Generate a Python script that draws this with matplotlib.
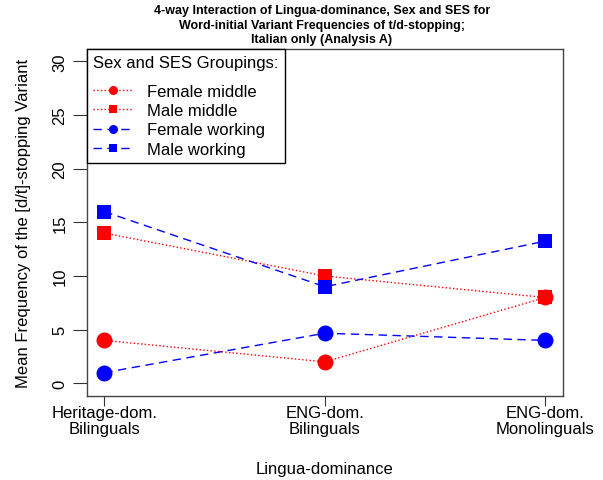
import matplotlib
matplotlib.use("Agg")
import matplotlib.pyplot as plt
from matplotlib.lines import Line2D

plt.rcParams['font.family'] = ['Liberation Sans', 'DejaVu Sans']

# grupos de dominancia linguistica
grupos = ["Heritage-dom.\nBilinguals", "ENG-dom.\nBilinguals", "ENG-dom.\nMonolinguals"]
x = [1, 2, 3]

# medias por sexo y nivel socioeconomico
female_middle = [4, 2, 8]
male_middle = [14, 10, 8]
female_working = [1, 4.67, 4]
male_working = [16, 9, 13.25]

series = [
    ("Female middle", female_middle, "red", ":", "o"),
    ("Male middle", male_middle, "red", ":", "s"),
    ("Female working", female_working, "blue", (0, (6, 4)), "o"),
    ("Male working", male_working, "blue", (0, (6, 4)), "s"),
]

fig = plt.figure(figsize=(6.03, 4.81), dpi=100)
ax = fig.add_axes([86.7 / 603, 83.8 / 481, 476.3 / 603, 347.7 / 481])

handles = []
for nombre, y, color, estilo, marca in series:
    ms = 11.5 if marca == "o" else 10.5
    ax.plot(x, y, color=color, linestyle=estilo, linewidth=1,
            marker=marca, markersize=ms, markeredgewidth=0)
    handles.append(Line2D([0], [0], color=color, linestyle=estilo, linewidth=1,
                          marker=marca, markersize=6.5 if marca == "o" else 6,
                          markeredgewidth=0, label=nombre))

ax.set_xlim(0.92, 3.08)
ax.set_ylim(-1.2, 31.2)
ax.set_xticks(x)
ax.set_xticklabels(grupos, fontsize=12, linespacing=1.1)
ax.set_yticks(range(0, 31, 5))
ax.set_yticklabels([str(v) for v in range(0, 31, 5)], fontsize=12,
                   rotation=90, va="center")
ax.tick_params(axis="both", direction="out", length=7, width=0.8, color="#333333")
ax.tick_params(axis="y", length=10, pad=4)
ax.tick_params(axis="x", pad=-1)
for s in ax.spines.values():
    s.set_color("#444444")
    s.set_linewidth(1)

ax.set_xlabel("Lingua-dominance", fontsize=12, labelpad=18)
ax.set_ylabel("Mean Frequency of the [d/t]-stopping Variant", fontsize=12, labelpad=15.5)

fig.text(322 / 603, 1 - 25.5 / 481,
         "4-way Interaction of Lingua-dominance, Sex and SES for\n"
         "Word-initial Variant Frequencies of t/d-stopping;\n"
         "Italian only (Analysis A)",
         ha="center", va="center", fontsize=9, fontweight="bold", linespacing=1.3)

leg = ax.legend(handles=handles, title="Sex and SES Groupings:", loc="upper left",
                bbox_to_anchor=(0, 1), borderaxespad=0, fontsize=12, title_fontsize=12,
                fancybox=False, edgecolor="black", framealpha=1, handlelength=2.4,
                handletextpad=0.8, labelspacing=0.25, borderpad=0.4, alignment="left")
leg.get_frame().set_linewidth(1)
# separacion extra entre el titulo y las entradas
leg._legend_box.sep = 10

fig.savefig("out.png", dpi=100)
